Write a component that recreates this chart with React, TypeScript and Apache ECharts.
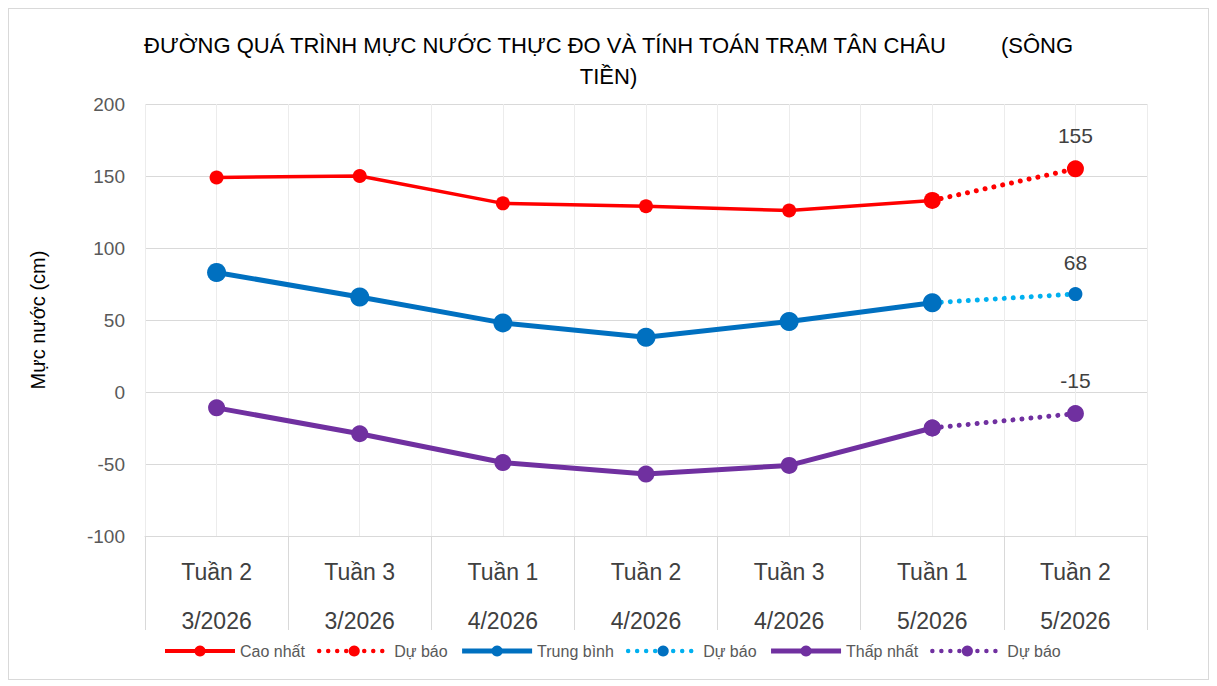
import React, { useEffect, useRef } from "react";
import * as echarts from "echarts";

const TITLE = "ĐƯỜNG QUÁ TRÌNH MỰC NƯỚC THỰC ĐO VÀ TÍNH TOÁN TRẠM TÂN CHÂU         (SÔNG\nTIỀN)";
const weeks = ["Tuần 2", "Tuần 3", "Tuần 1", "Tuần 2", "Tuần 3", "Tuần 1", "Tuần 2"];
const months = ["3/2026", "3/2026", "4/2026", "4/2026", "4/2026", "5/2026", "5/2026"];
const yTicks = { min: -100, max: 200, interval: 50 };

const caoNhat = [149, 150, 131, 129, 126, 133, null];
const caoNhatDuBao = [null, null, null, null, null, 133, 155];
const trungBinh = [83, 66, 48, 38, 49, 62, null];
const trungBinhDuBao = [null, null, null, null, null, 62, 68];
const thapNhat = [-11, -29, -49, -57, -51, -25, null];
const thapNhatDuBao = [null, null, null, null, null, -25, -15];

const FONT = "Liberation Sans, Arial, sans-serif";
const DOT: number[] = [0.01, 9];

function withLastLabel(arr: (number | null)[]) {
  return arr.map((v, i) =>
    i === arr.length - 1 && v !== null
      ? { value: v, label: { show: true, position: "top", distance: 14, fontSize: 21, color: "#404040", fontFamily: FONT } }
      : v
  );
}

export default function App() {
  const ref = useRef<HTMLDivElement>(null);
  useEffect(() => {
    if (!ref.current) return;
    const chart = echarts.init(ref.current, undefined, { renderer: "svg" });
    const categories = weeks.map((w, i) => w + "\n" + months[i]);
    chart.setOption({
      animation: false,
      backgroundColor: "#ffffff",
      title: {
        text: TITLE,
        left: "center",
        top: 16,
        textStyle: { fontFamily: FONT, fontSize: 22, fontWeight: "normal", color: "#000000", lineHeight: 31 },
      },
      legend: {
        left: 149,
        top: 629,
        itemWidth: 70,
        itemHeight: 14,
        itemGap: 12,
        textStyle: { fontFamily: FONT, fontSize: 16, color: "#595959" },
        formatter: (name: string) => name.replace(/ \d$/, ""),
        data: [
          { name: "Cao nhất", lineStyle: { width: 4 } },
          { name: "Dự báo 1", lineStyle: { width: 4.5 } },
          { name: "Trung bình", lineStyle: { width: 5 } },
          { name: "Dự báo 2", lineStyle: { width: 4.5 } },
          { name: "Thấp nhất", lineStyle: { width: 5 } },
          { name: "Dự báo 3", lineStyle: { width: 4.5 } },
        ],
      },
      grid: { left: 136, top: 95, width: 1002, height: 432 },
      xAxis: [
        {
          type: "category",
          data: categories,
          boundaryGap: true,
          position: "bottom",
          axisLine: { show: true, onZero: false, lineStyle: { color: "#d9d9d9", width: 1 } },
          axisTick: { show: true, interval: 0, inside: false, length: 94, lineStyle: { color: "#d9d9d9", width: 1 } },
          axisLabel: { fontFamily: FONT, fontSize: 23, color: "#404040", lineHeight: 49, margin: 11, interval: 0 },
          splitLine: { show: false },
          z: 5,
        },
        {
          type: "value",
          min: 0,
          max: 14,
          interval: 1,
          position: "top",
          axisLine: { show: false, onZero: false },
          axisTick: { show: false },
          axisLabel: { show: false },
          splitLine: { show: true, lineStyle: { color: "#ececec", width: 1 } },
        },
      ],
      yAxis: {
        type: "value",
        min: yTicks.min,
        max: yTicks.max,
        interval: yTicks.interval,
        name: "Mực nước (cm)",
        nameLocation: "middle",
        nameGap: 97,
        nameTextStyle: { fontFamily: FONT, fontSize: 20, color: "#000000" },
        axisLine: { show: false, onZero: false },
        axisTick: { show: false },
        axisLabel: { fontFamily: FONT, fontSize: 19, color: "#595959", margin: 20 },
        splitLine: { show: true, lineStyle: { color: "#d9d9d9", width: 1 } },
      },
      series: [
        {
          name: "Cao nhất",
          type: "line",
          data: caoNhat,
          symbol: "circle",
          symbolSize: 14,
          lineStyle: { color: "#ff0000", width: 3.5 },
          itemStyle: { color: "#ff0000" },
          z: 3,
        },
        {
          name: "Dự báo 1",
          type: "line",
          data: withLastLabel(caoNhatDuBao),
          symbol: "circle",
          symbolSize: 17,
          lineStyle: { color: "#ff0000", width: 5, type: DOT, cap: "round" },
          itemStyle: { color: "#ff0000" },
          z: 4,
        },
        {
          name: "Trung bình",
          type: "line",
          data: trungBinh,
          symbol: "circle",
          symbolSize: 19,
          lineStyle: { color: "#0070c0", width: 5 },
          itemStyle: { color: "#0070c0" },
          z: 3,
        },
        {
          name: "Dự báo 2",
          type: "line",
          data: withLastLabel(trungBinhDuBao),
          symbol: "circle",
          symbolSize: 14,
          lineStyle: { color: "#00b0f0", width: 5, type: DOT, cap: "round" },
          itemStyle: { color: "#0070c0" },
          z: 2,
        },
        {
          name: "Thấp nhất",
          type: "line",
          data: thapNhat,
          symbol: "circle",
          symbolSize: 17,
          lineStyle: { color: "#7030a0", width: 5 },
          itemStyle: { color: "#7030a0" },
          z: 3,
        },
        {
          name: "Dự báo 3",
          type: "line",
          data: withLastLabel(thapNhatDuBao),
          symbol: "circle",
          symbolSize: 17,
          lineStyle: { color: "#7030a0", width: 5, type: DOT, cap: "round" },
          itemStyle: { color: "#7030a0" },
          z: 2,
        },
      ],
    });
    return () => chart.dispose();
  }, []);
  return (
    <div
      ref={ref}
      style={{ width: 1201, height: 672, border: "1px solid #d9d9d9", boxSizing: "border-box" }}
    />
  );
}
